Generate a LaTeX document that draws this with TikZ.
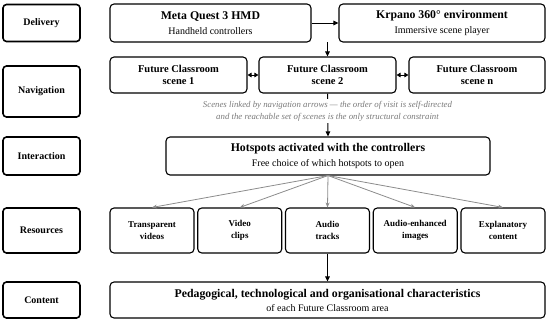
\documentclass[tikz,border=0pt]{standalone}
\usepackage{fontspec}
\setmainfont{Liberation Serif}
\usetikzlibrary{arrows.meta}
\definecolor{capgray}{HTML}{7A7A7A}
\definecolor{arrgray}{HTML}{8C8C8C}
\tikzset{
  lab/.style={draw, line width=1.6pt, rounded corners=3.5pt, minimum width=77pt, inner sep=0pt,
    font=\bfseries\fontsize{10}{10}\selectfont},
  box/.style={draw, line width=1.1pt, rounded corners=4pt, inner sep=0pt, align=center},
  mid/.style={font=\bfseries\fontsize{10.5}{12}\selectfont},
  res/.style={font=\bfseries\fontsize{9}{11.5}\selectfont},
  blk/.style={-{Triangle[length=5pt,width=4.5pt]}, line width=1pt},
  dbl/.style={{Triangle[length=4pt,width=4.5pt]}-{Triangle[length=4pt,width=4.5pt]}, line width=1pt},
  gry/.style={-{Stealth[length=5pt,width=4pt]}, line width=0.8pt, draw=arrgray},
}
\newcommand{\ttltext}[1]{{\bfseries\fontsize{11.8}{12}\selectfont #1}}
\newcommand{\subt}[1]{{\normalfont\fontsize{10}{10}\selectfont #1}}
\begin{document}
\begin{tikzpicture}[x=1pt,y=-1pt]
\useasboundingbox (0,0) rectangle (550,322);
% left labels
\node[lab, minimum height=37pt] (lDel) at (41.5,23) {Delivery};
\node[lab, minimum height=51pt] (lNav) at (41.5,91.5) {Navigation};
\node[lab, minimum height=38pt] (lInt) at (41.5,156) {Interaction};
\node[lab, minimum height=45pt] (lRes) at (41.5,230.5) {Resources};
\node[lab, minimum height=36pt] (lCon) at (41.5,300) {Content};
% delivery
\node[box, minimum width=201pt, minimum height=38pt] (meta) at (210.5,23)
  {\ttltext{Meta Quest 3 HMD}\\[3pt]\subt{Handheld controllers}};
\node[box, minimum width=206pt, minimum height=38pt] (krp) at (442,23)
  {\ttltext{Krpano 360° environment}\\[3pt]\subt{Immersive scene player}};
% navigation
\node[box, mid, minimum width=137pt, minimum height=36pt] (s1) at (178.5,75) {Future Classroom\\scene 1};
\node[box, mid, minimum width=137pt, minimum height=36pt] (s2) at (327.5,75) {Future Classroom\\scene 2};
\node[box, mid, minimum width=136pt, minimum height=36pt] (sn) at (477,75) {Future Classroom\\scene n};
\coordinate (split) at (327.5,42);
% interaction
\node[box, minimum width=324pt, minimum height=38pt] (hot) at (328,156)
  {\ttltext{Hotspots activated with the controllers}\\[3pt]\subt{Free choice of which hotspots to open}};
% resources
\node[box, res, minimum width=84pt, minimum height=45pt] (r1) at (152,230.5) {Transparent\\videos};
\node[box, res, minimum width=84pt, minimum height=45pt] (r2) at (239.75,230.5) {Video\\clips};
\node[box, res, minimum width=84pt, minimum height=45pt] (r3) at (327.5,230.5) {Audio\\tracks};
\node[box, res, minimum width=84pt, minimum height=45pt] (r4) at (415.25,230.5) {Audio-enhanced\\images};
\node[box, res, minimum width=84pt, minimum height=45pt] (r5) at (503,230.5) {Explanatory\\content};
% content
\node[box, minimum width=435pt, minimum height=36pt] (con) at (327.5,300)
  {\ttltext{Pedagogical, technological and organisational characteristics}\\[2pt]\subt{of each Future Classroom area}};
% connectors
\draw[blk] (meta.east) -- (krp.west);
\draw[blk] (split) -- (s2.north);
\draw[dbl] (s1.east) -- (s2.west);
\draw[dbl] (s2.east) -- (sn.west);
\draw[blk] (s2.south) -- (hot.north);
\node[fill=white, inner sep=2pt, align=center, text=capgray,
  font=\itshape\fontsize{8.8}{12}\selectfont] (cap) at (327.5,111)
  {Scenes linked by navigation arrows — the order of visit is self-directed\\and the reachable set of scenes is the only structural constraint};
\foreach \r in {r1,r2,r3,r4,r5} \draw[gry] (hot.south) -- (\r.north);
\draw[blk] (r3.south) -- (con.north);
\end{tikzpicture}
\end{document}
